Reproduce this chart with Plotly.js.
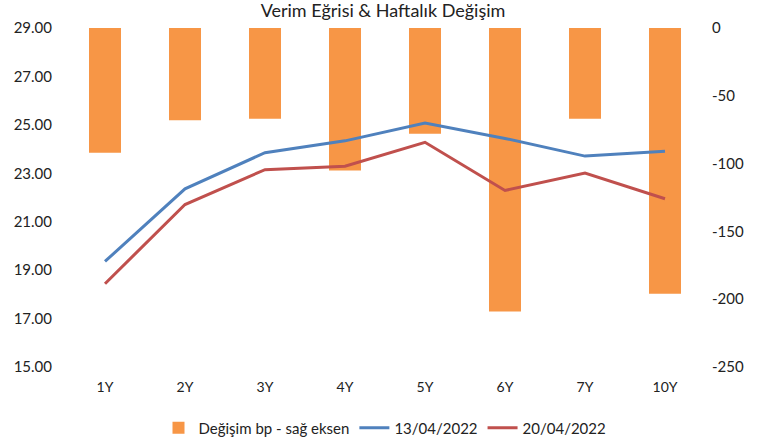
<!DOCTYPE html>
<html><head><meta charset="utf-8">
<script src="https://cdn.plot.ly/plotly-3.0.1.min.js"></script>
<style>html,body{margin:0;padding:0;background:#fff}#chart{width:766px;height:444px}</style>
</head><body><div id="chart"></div>
<script>
const categories = ['1Y','2Y','3Y','4Y','5Y','6Y','7Y','10Y'];
const changeBp = [-92, -68, -67, -105, -78, -209, -67, -196];
const yield1304 = [19.36, 22.36, 23.85, 24.34, 25.08, 24.44, 23.71, 23.91];
const yield2004 = [18.44, 21.71, 23.15, 23.29, 24.28, 22.29, 23.01, 21.95];
const seriesNames = ['Değişim bp - sağ eksen', '13/04/2022', '20/04/2022'];
const titleText = 'Verim Eğrisi & Haftalık Değişim';
const rightTickVals = [0, -50, -100, -150, -200, -250];
const rightTickText = ['0', '-50', '-100', '-150', '-200', '-250'];

const font = 'Lato, "Open Sans", sans-serif';
const traces = [
  {type:'bar', x:categories, y:changeBp, name:seriesNames[0], yaxis:'y',
   marker:{color:'#F79646'}, width:0.4},
  {type:'scatter', mode:'lines', x:categories, y:yield1304, name:seriesNames[1], yaxis:'y2',
   line:{color:'#4F81BD', width:3}},
  {type:'scatter', mode:'lines', x:categories, y:yield2004, name:seriesNames[2], yaxis:'y2',
   line:{color:'#C0504D', width:3}}
];
const layout = {
  width:766, height:444,
  margin:{l:65, r:61, t:28, b:77, autoexpand:false},
  paper_bgcolor:'#fff', plot_bgcolor:'#fff',
  font:{family:font, size:15, color:'#222'},
  title:{text:titleText, x:0.5, xanchor:'center', y:0.975, yanchor:'middle', font:{family:font, size:18, color:'#222'}},
  showlegend:true,
  legend:{orientation:'h', x:0.5, xanchor:'center', y:-0.18, yanchor:'middle', font:{family:font, size:15, color:'#222'}, traceorder:'normal'},
  xaxis:{type:'category', showgrid:false, zeroline:false, showline:false, ticks:'', tickfont:{size:14}, automargin:false, ticklabelstandoff:10},
  yaxis:{side:'right', range:[-250,0], tickvals:rightTickVals, ticktext:rightTickText, showgrid:false, zeroline:false, showline:false, ticks:'', tickfont:{size:15}, automargin:false, ticklabelstandoff:6},
  yaxis2:{overlaying:'y', side:'left', range:[15,29], tick0:15, dtick:2, tickformat:'.2f', showgrid:false, zeroline:false, showline:false, ticks:'', tickfont:{size:15}, automargin:false, ticklabelstandoff:12},
  bargap:0.6
};
Plotly.newPlot('chart', traces, layout, {displayModeBar:false});
</script></body></html>
